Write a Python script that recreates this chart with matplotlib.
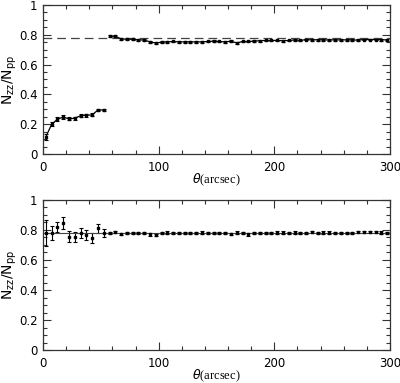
import numpy as np
import matplotlib.pyplot as plt
from matplotlib.ticker import MultipleLocator, FuncFormatter

# top panel, small separations (first segment)
theta_a = [2.5, 7.5, 12.5, 17.5, 22.5, 27.5, 32.5, 37.5, 42.5, 47.5, 52.5]
ratio_a = [0.115, 0.200, 0.233, 0.248, 0.235, 0.240, 0.257, 0.260, 0.262, 0.295, 0.295]
err_a = [0.020, 0.012, 0.012, 0.012, 0.010, 0.010, 0.010, 0.010, 0.010, 0.009, 0.008]

# top panel, larger separations
theta_b = [57.5 + 5 * i for i in range(49)]
ratio_b = [0.790, 0.790, 0.772, 0.770, 0.770, 0.765, 0.765, 0.752, 0.745, 0.750,
           0.752, 0.755, 0.752, 0.752, 0.752, 0.752, 0.752, 0.755, 0.757, 0.755,
           0.752, 0.757, 0.745, 0.755, 0.755, 0.757, 0.760, 0.762, 0.762, 0.762,
           0.760, 0.762, 0.765, 0.762, 0.768, 0.765, 0.767, 0.765, 0.765, 0.766,
           0.765, 0.766, 0.765, 0.764, 0.768, 0.768, 0.768, 0.767, 0.765]
err_b = [0.008] * 10 + [0.006] * 39

# bottom panel
theta_c = [2.5 + 5 * i for i in range(60)]
ratio_c = [0.778, 0.780, 0.820, 0.845, 0.755, 0.755, 0.780, 0.767, 0.745, 0.810,
           0.780, 0.780, 0.785, 0.775, 0.778, 0.778, 0.778, 0.780, 0.770, 0.768,
           0.780, 0.782, 0.780, 0.780, 0.780, 0.780, 0.778, 0.782, 0.780, 0.778,
           0.780, 0.778, 0.775, 0.782, 0.778, 0.770, 0.780, 0.778, 0.780, 0.780,
           0.782, 0.782, 0.780, 0.782, 0.778, 0.780, 0.785, 0.778, 0.782, 0.782,
           0.780, 0.780, 0.778, 0.778, 0.785, 0.785, 0.785, 0.785, 0.782, 0.780]
err_c = [0.085, 0.048, 0.035, 0.040, 0.038, 0.032, 0.035, 0.033, 0.033, 0.030,
         0.025] + [0.008] * 49

ref_top = 0.78
ref_bottom = 0.78


def style_axis(ax):
    ax.set_xlim(0, 300)
    ax.set_ylim(0, 1)
    ax.xaxis.set_major_locator(MultipleLocator(100))
    ax.xaxis.set_minor_locator(MultipleLocator(20))
    ax.yaxis.set_major_locator(MultipleLocator(0.2))
    ax.yaxis.set_minor_locator(MultipleLocator(0.05))
    ax.yaxis.set_major_formatter(FuncFormatter(lambda v, p: f"{v:g}"))
    ax.tick_params(which='both', direction='in', top=True, right=True,
                   labelsize=8.5, width=0.8, color='#333333')
    ax.tick_params(which='major', length=6)
    ax.tick_params(which='minor', length=3)
    ax.tick_params(axis='x', pad=5)
    ax.tick_params(axis='y', pad=4)
    for s in ax.spines.values():
        s.set_linewidth(0.9)
        s.set_color('#333333')
    ax.set_xlabel(r'$\theta$(arcsec)', family='Liberation Serif', fontsize=9)
    ax.xaxis.set_label_coords(0.5, -0.118)
    ax.set_ylabel(r'N$_{\rm zz}$/N$_{\rm pp}$', fontsize=10)
    ax.yaxis.set_label_coords(-0.068, 0.5)


fig = plt.figure(figsize=(4.0, 3.83), dpi=100)
ax1 = fig.add_axes([0.1075, 0.598, 0.8675, 0.389])
ax2 = fig.add_axes([0.1075, 0.086, 0.8675, 0.392])

kw = dict(fmt='s-', color='black', ms=1.6, elinewidth=0.8, capsize=1.5,
          capthick=0.8, lw=0.9)
ax1.errorbar(theta_a, ratio_a, yerr=err_a, **kw)
ax1.errorbar(theta_b, ratio_b, yerr=err_b, **kw)
ax1.axhline(ref_top, color='#444444', lw=0.9, ls=(0, (7, 4)))
style_axis(ax1)

ax2.errorbar(theta_c, ratio_c, yerr=err_c, fmt='s', color='black', ms=1.6,
             elinewidth=0.8, capsize=1.5, capthick=0.8)
ax2.axhline(ref_bottom, color='#444444', lw=0.8)
style_axis(ax2)

fig.savefig('out.png', dpi=100)
